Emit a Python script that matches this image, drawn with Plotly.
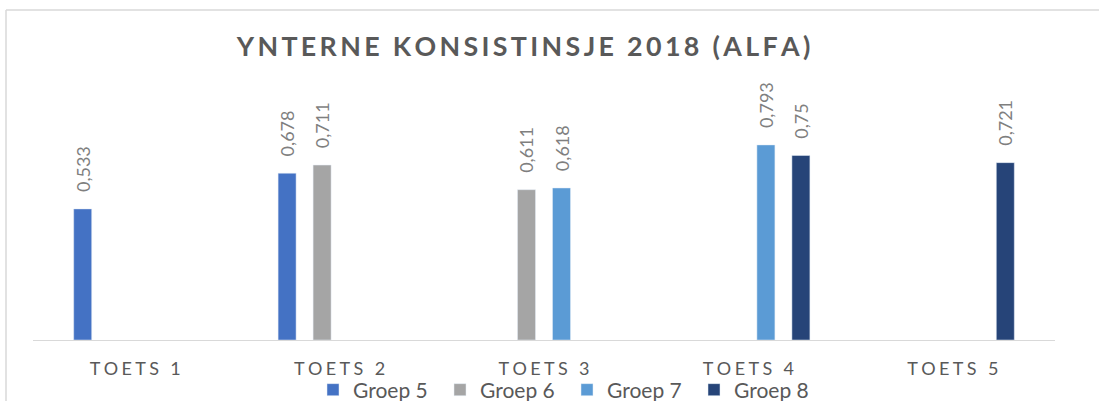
import plotly.graph_objects as go

categories = ["TOETS 1", "TOETS 2", "TOETS 3", "TOETS 4", "TOETS 5"]
series_names = ["Groep 5", "Groep 6", "Groep 7", "Groep 8"]
groep5 = [0.533, 0.678, None, None, None]
groep6 = [None, 0.711, 0.611, None, None]
groep7 = [None, None, 0.618, 0.793, None]
groep8 = [None, None, None, 0.75, 0.721]
colors = ["#4472C4", "#A5A5A5", "#5B9BD5", "#264478"]
title_text = "YNTERNE KONSISTINSJE 2018 (ALFA)"

FONT = "Lato"


def spaced(s, sep):
    return sep.join(list(s))


def fmt(v):
    if v is None:
        return ""
    return "\u00a0\u00a0\u00a0" + str(v).replace(".", ",")


fig = go.Figure()
for name, vals, col in zip(series_names, [groep5, groep6, groep7, groep8], colors):
    fig.add_trace(go.Bar(
        x=categories, y=vals, name=name, marker_color=col,
        text=[fmt(v) for v in vals], textposition="outside", textangle=-90,
        textfont=dict(family=FONT, size=18, color="#7F7F7F"),
        constraintext="none", cliponaxis=False,
    ))

L, R, T, B = 33, 44, 94, 61
W, H = 1099, 401
pw, ph = W - L - R, H - T - B


def px_x(p):
    return (p - L) / pw


def px_y(p):
    return (H - B - p) / ph


fig.update_layout(
    width=W, height=H,
    margin=dict(l=L, r=R, t=T, b=B, autoexpand=False),
    paper_bgcolor="white", plot_bgcolor="white",
    barmode="group", bargap=0.315, bargroupgap=0.486,
    title=dict(text="<b>" + spaced(title_text, "\u2009") + "</b>",
               x=523.5 / W, xanchor="center", xref="container",
               y=1 - 47 / H, yanchor="middle", yref="container",
               font=dict(family=FONT, size=26.8, color="#595959")),
    xaxis=dict(tickvals=categories,
               ticktext=[spaced(c, "\u2009\u200a") for c in categories],
               showline=True, linecolor="#D9D9D9", linewidth=1,
               ticks="", ticklabelstandoff=12, tickangle=0,
               tickfont=dict(family=FONT, size=18, color="#595959"),
               showgrid=False, zeroline=False, automargin=False),
    yaxis=dict(range=[0, 1], visible=False, showgrid=False, zeroline=False),
    showlegend=True,
    legend=dict(orientation="h", x=567 / W, xref="container", xanchor="center",
                y=px_y(390), yanchor="middle",
                font=dict(family=FONT, size=21, color="#595959"),
                entrywidth=82, entrywidthmode="pixels", itemwidth=30,
                bgcolor="rgba(0,0,0,0)"),
    shapes=[
        dict(type="line", xref="paper", yref="paper",
             x0=px_x(6), x1=px_x(6), y0=px_y(10), y1=px_y(420),
             line=dict(color="#D9D9D9", width=1.5)),
        dict(type="line", xref="paper", yref="paper",
             x0=px_x(6), x1=px_x(1110), y0=px_y(10), y1=px_y(10),
             line=dict(color="#D9D9D9", width=1.5)),
    ],
)

fig.write_html("out.html", config={"displayModeBar": False},
               post_script="document.body.style.margin='0';document.body.style.overflow='hidden';")
